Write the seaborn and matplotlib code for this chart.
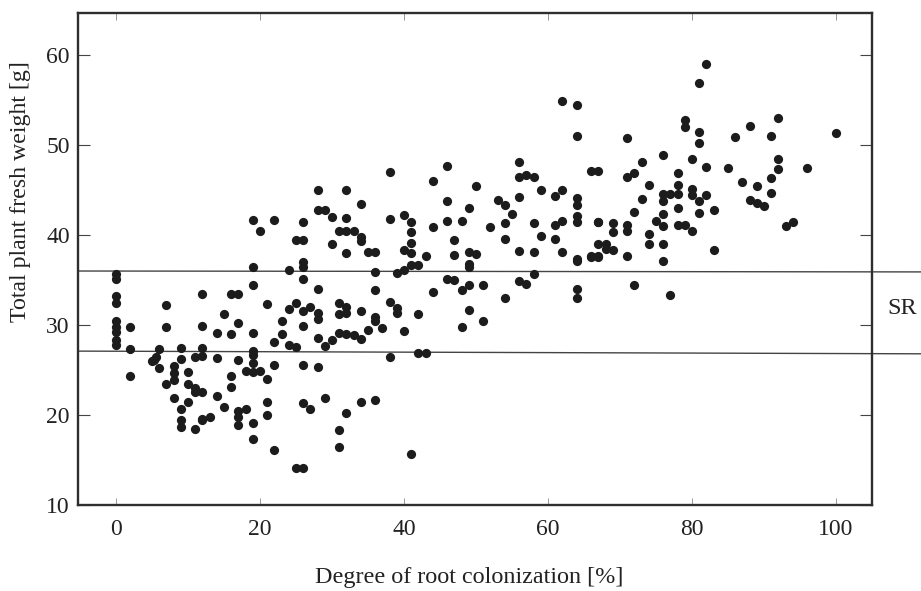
import matplotlib
matplotlib.use("Agg")
import matplotlib.pyplot as plt
import pandas as pd
import seaborn as sns

colonization = [
 0,0,0,0,0,0,0,0,0, 2,2,2, 5,5.3,5.6,6,6, 7,7,7, 8,8,8,8, 9,9,9,9,9,
 10,10,10, 11,11,11,11, 12,12,12,12,12,12,12, 13, 14,14,14, 15,15, 16,16,16,16,
 17,17,17,17,17,17, 18,18, 19,19,19,19,19,19,19,19,19,19, 20,20, 21,21,21,21,
 22,22,22,22, 23,23, 24,24,24, 25,25,25,25, 26,26,26,26,26,26,26,26,26,26, 27,27,
 28,28,28,28,28,28,28, 29,29,29, 30,30,30, 31,31,31,31,31,31,
 32,32,32,32,32,32,32,32, 33,33, 34,34,34,34,34,34, 35,35, 36,36,36,36,36,36,
 37, 38,38,38,38, 39,39,39, 40,40,40,40,
 41,41,41,41,41,41, 42,42,42, 43,43, 44,44,44, 46,46,46,46, 47,47,47,
 48,48,48, 49,49,49,49,49,49, 50,50, 51,51, 52, 53, 54,54,54,54, 55,
 56,56,56,56,56, 57,57, 58,58,58,58, 59,59, 61,61,61, 62,62,62,62,
 64,64,64,64,64,64,64,64,64,64, 66,66,66, 67,67,67,67,67,67, 68,68,
 69,69,69, 71,71,71,71,71, 72,72,72, 73,73, 74,74,74, 75,
 76,76,76,76,76,76,76, 77,77, 78,78,78,78,78, 79,79,79, 80,80,80,80,
 81,81,81,81,81, 82,82,82, 83,83, 85, 86, 87, 88,88, 89,89, 90,
 91,91,91, 92,92,92, 93, 94, 96, 100]
fresh_weight = [
 35.7,35.1,33.2,32.5,30.4,29.8,29.2,28.3,27.8, 29.8,27.3,24.3, 26,26.1,26.4,27.3,25.2, 32.2,29.8,23.4, 25.4,24.7,23.9,21.9, 27.5,26.2,20.7,19.4,18.7,
 24.8,23.5,21.5, 26.5,23,22.6,18.4, 33.5,29.9,27.4,26.6,22.6,19.6,19.4, 19.8, 29.1,26.3,22.1, 31.2,20.9, 33.4,29,24.3,23.1,
 33.4,30.2,26.1,20.5,19.8,18.9, 24.9,20.7, 41.7,36.4,34.4,29.1,27.1,26.7,25.8,24.8,19.1,17.3, 40.5,24.9, 32.3,24,21.5,20,
 41.7,28.1,25.6,16.1, 30.4,29, 36.1,31.8,27.8, 39.5,32.5,27.6,14.1, 41.4,39.4,37,36.4,35.1,31.6,29.9,25.6,21.3,14.1, 32,20.7,
 45,42.8,34,31.3,30.7,28.6,25.3, 42.8,27.7,21.9, 42,39,28.3, 40.5,32.4,31.2,29.1,18.3,16.5,
 45,41.9,40.5,38,32,31.3,29,20.2, 40.4,28.9, 43.5,39.8,39.3,31.6,28.5,21.4, 38.1,29.4, 38.1,35.9,33.9,30.9,30.4,21.7,
 29.7, 47,41.8,32.6,26.4, 35.8,31.9,31.3, 42.2,38.3,36.1,29.3,
 41.4,40.3,39.1,38,36.7,15.7, 36.7,31.2,26.9, 37.7,26.9, 46,40.9,33.7, 47.7,43.8,41.6,35.1, 39.4,37.8,35,
 41.6,33.9,29.8, 43,38.1,36.8,36.4,34.5,31.7, 45.4,37.9, 34.4,30.5, 40.9, 43.9, 43.3,41.3,39.6,33, 42.3,
 48.1,46.4,44.2,38.2,34.9, 46.7,34.6, 46.4,41.3,38.1,35.7, 45,39.9, 44.3,41.1,39.6, 54.9,45,41.6,38.1,
 54.5,51,44.1,43.3,42.1,41.4,37.1,37.3,34,33, 47.1,37.7,37.6, 47.1,41.4,39,37.7,41.4,37.6, 39,38.5,
 41.3,40.3,38.3, 50.8,46.4,41.1,40.4,37.7, 46.9,42.6,34.4, 48.1,44, 45.6,40.1,39, 41.6,
 48.9,44.6,43.8,42.3,39,37.1,41, 44.6,33.3, 46.9,45.6,44.6,43,41.1, 52.8,52,41.1, 48.4,45.1,40.4,44.5,
 56.9,51.4,50.2,43.8,42.4, 59,47.6,44.4, 42.8,38.3, 47.4, 50.9, 45.9, 52.1,43.9, 45.4,43.6, 43.2,
 51,46.3,44.7, 53,48.4,47.3, 41, 41.4, 47.4, 51.3]

x_ticks = [0, 20, 40, 60, 80, 100]
y_ticks = [10, 20, 30, 40, 50, 60]
sr_upper = [36.0, 35.9]
sr_lower = [27.1, 26.8]
sr_x = [-5.28, 111.9]

df = pd.DataFrame({"colonization": colonization, "weight": fresh_weight})

plt.rcParams["font.family"] = ["Liberation Serif", "DejaVu Serif"]
fig = plt.figure(figsize=(9.21, 5.91), dpi=100)
ax = fig.add_axes([78/921, 86/591, 794/921, 492/591])
sns.scatterplot(data=df, x="colonization", y="weight", ax=ax, s=44,
                color="#1c1c1c", linewidth=0, zorder=3, clip_on=False)
for vals in (sr_upper, sr_lower):
    ax.plot(sr_x, vals, color="#444444", lw=1.0, clip_on=False, zorder=2)

ax.set_xlim(-5.28, 105)
ax.set_ylim(10, 64.67)
ax.set_xticks(x_ticks)
ax.set_yticks(y_ticks)
ax.tick_params(axis="x", direction="in", length=5, width=0.6, color="#888888",
               top=True, labelsize=17, labelcolor="#222222", pad=10)
ax.tick_params(axis="y", direction="in", length=8.5, width=0.8, color="#444444",
               right=True, labelsize=17, labelcolor="#222222", pad=6)
for s in ax.spines.values():
    s.set_linewidth(1.7)
    s.set_color("#2e2e2e")
ax.set_xlabel("Degree of root colonization [%]", fontsize=17.4, color="#222222")
ax.set_ylabel("Total plant fresh weight [g]", fontsize=17.2, color="#222222")
ax.xaxis.set_label_coords(0.493, -0.126)
ax.yaxis.set_label_coords(-0.059, 0.638)
ax.text(887, 591-308, "SR", transform=None, fontsize=17.5, color="#222222", va="center")
fig.savefig("out.png", dpi=100)
